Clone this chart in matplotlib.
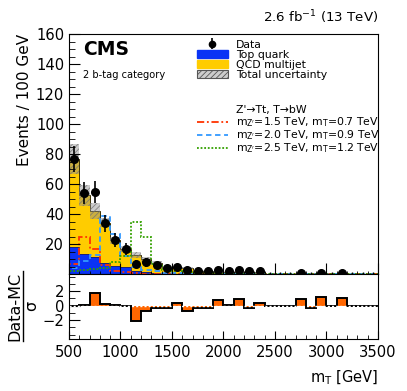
import numpy as np
import matplotlib
matplotlib.use("Agg")
import matplotlib.pyplot as plt
from matplotlib.patches import Patch
from matplotlib.lines import Line2D

plt.rcParams['font.family'] = ['DejaVu Sans']
plt.rcParams['hatch.linewidth'] = 0.6

# bin edges: 100 GeV bins from 500 to 3500 GeV
edges = np.arange(500, 3600, 100)

# backgrounds (events / 100 GeV)
top_quark = [18, 13.7, 11.4, 7.4, 5.7, 5.0, 2.0, 1.5, 1.0, 0.8, 0.6, 0.5, 0.4, 0.3, 0.3,
             0.2, 0.2, 0.2, 0.1, 0.1, 0.1, 0.1, 0.05, 0.05, 0.05, 0.02, 0.02, 0.02, 0.02, 0.02]
qcd = [59, 39, 31, 27, 17, 12, 11, 8.5, 6.5, 3.7, 3.7, 3.8, 2.1, 1.9, 1.5,
       1.6, 1.3, 1.7, 1.4, 0.2, 0.2, 0.2, 0.25, 0.35, 0.15, 0.08, 0.18, 0.08, 0.08, 0.08]
bkg_unc = [10, 7, 5.5, 3, 2.5, 2, 1.8, 1.5, 1.2, 0.9, 0.8, 0.8, 0.6, 0.5, 0.5,
           0.5, 0.4, 0.5, 0.4, 0.3, 0.3, 0.3, 0.3, 0.3, 0.3, 0.2, 0.2, 0.2, 0.2, 0.2]

# observed data
data = [77, 54, 55, 34, 23, 17, 7, 8, 6, 4, 5, 3, 2, 2, 3,
        2, 3, 2, 2, 0, 0, 0, 1, 0, 1, 0, 1, 0, 0, 0]

# signals
sig_15_07 = [7, 25, 17, 6, 2.5, 1.5, 1.0, 0.6, 0.4, 0.3, 0.2, 0.15, 0.1, 0.1, 0.05,
             0.05, 0.05, 0.05, 0.05, 0.05, 0.05, 0.05, 0.05, 0.05, 0.05, 0.05, 0.05, 0.05, 0.05, 0.05]
sig_20_09 = [4, 9, 13, 39, 27, 12, 5, 3, 2, 1.2, 0.8, 0.5, 0.4, 0.3, 0.2,
             0.2, 0.1, 0.1, 0.1, 0.1, 0.05, 0.05, 0.05, 0.05, 0.05, 0.05, 0.05, 0.05, 0.05, 0.05]
sig_25_12 = [2, 3, 3.5, 4, 8, 12, 35, 25, 7, 3, 2, 1.5, 1.0, 0.7, 0.5,
             0.4, 0.3, 0.3, 0.2, 0.2, 0.1, 0.1, 0.1, 0.1, 0.1, 0.05, 0.05, 0.05, 0.05, 0.05]
sig_labels = [r"m$_{\mathrm{Z'}}$=1.5 TeV, m$_{\mathrm{T}}$=0.7 TeV",
              r"m$_{\mathrm{Z'}}$=2.0 TeV, m$_{\mathrm{T}}$=0.9 TeV",
              r"m$_{\mathrm{Z'}}$=2.5 TeV, m$_{\mathrm{T}}$=1.2 TeV"]

# (data - MC) / sigma
pull = [0.0, 0.05, 1.8, 0.25, 0.1, 0.0, -2.1, -0.7, -0.35, -0.3, 0.4, -0.7, -0.3, -0.3, 0.8,
        0.05, 0.9, -0.3, 0.4, -0.1, -0.1, -0.1, 0.9, -0.3, 1.15, -0.05, 1.1, -0.05, -0.05, -0.1]

top_quark = np.array(top_quark)
qcd = np.array(qcd)
total = top_quark + qcd
bkg_unc = np.array(bkg_unc)
data = np.array(data, dtype=float)
centers = 0.5 * (edges[:-1] + edges[1:])

fig = plt.figure(figsize=(4.07, 3.91), dpi=100)
ax = fig.add_axes([0.1695, 0.298, 0.7592, 0.6142])
rax = fig.add_axes([0.1695, 0.133, 0.7592, 0.165], sharex=ax)

blue = '#0a33f5'
gold = '#ffcc00'
sig_colors = ['#ff3300', '#3399ff', '#33a000']
sig_styles = [(0, (4, 1.5, 1, 1.5)), (0, (3, 2)), (0, (1, 1))]

# stacked backgrounds
ax.stairs(top_quark, edges, baseline=0, fill=True, color=blue, lw=0)
ax.stairs(total, edges, baseline=top_quark, fill=True, color=gold, lw=0)
ax.stairs(top_quark, edges, baseline=None, color='#202060', lw=0.6)
ax.stairs(total, edges, baseline=None, color='#3a3000', lw=0.7)

# total uncertainty band
ax.stairs(total + bkg_unc, edges, baseline=total - bkg_unc, fill=True,
          facecolor=(0.55, 0.55, 0.55, 0.45), edgecolor=(0.45, 0.45, 0.45, 0.8),
          hatch='//////', lw=0)

# signals
for vals, c, ls in zip([sig_15_07, sig_20_09, sig_25_12], sig_colors, sig_styles):
    ax.stairs(vals, edges, color=c, lw=1.3, ls=ls)

# data
err_lo = np.sqrt(data)
err_hi = np.where(data > 0, np.sqrt(data), 1.8)
has = data > 0
ax.errorbar(centers[has], data[has], yerr=[err_lo[has], err_hi[has]], fmt='o',
            color='black', ms=5.5, elinewidth=1.2, capsize=0)
ax.errorbar(centers[~has], data[~has], yerr=[err_lo[~has], err_hi[~has]], fmt='none',
            ecolor='black', elinewidth=1.0, capsize=0)

ax.set_xlim(500, 3500)
ax.set_ylim(0, 160)
ax.set_yticks(np.arange(20, 161, 20))
ax.set_yticks(np.arange(0, 161, 5), minor=True)
ax.tick_params(axis='both', which='both', direction='in', top=False, right=False,
               labelsize=10.6)
ax.tick_params(axis='y', which='major', length=8)
ax.tick_params(axis='y', which='minor', length=4)
ax.tick_params(axis='x', labelbottom=False, length=8)
ax.set_xticks(np.arange(500, 3501, 500))
ax.set_xticks(np.arange(500, 3501, 100), minor=True)

# legend for data and backgrounds
hdata = ax.errorbar([], [], yerr=[], fmt='o', color='black', ms=4.5, elinewidth=1.2)
ax.legend(
    [hdata,
     Patch(facecolor=blue, edgecolor=blue),
     Patch(facecolor=gold, edgecolor=gold),
     Patch(facecolor='#cccccc', edgecolor='#555555', hatch='//////', lw=0.8)],
    ['Data', 'Top quark', 'QCD multijet', 'Total uncertainty'],
    loc='upper left', bbox_to_anchor=(0.414, 0.978), frameon=False, fontsize=7.8,
    handlelength=2.87, handleheight=0.8, handletextpad=0.7, labelspacing=0.0,
    borderaxespad=0, borderpad=0)

# signal legend block
ax.text(0.539, 0.685, "Z'\u2192Tt, T\u2192bW", transform=ax.transAxes, fontsize=7.8,
        ha='left', va='center')
for i, (lab, c, ls) in enumerate(zip(sig_labels, sig_colors, sig_styles)):
    yy = 0.633 - i * 0.053
    ax.add_line(Line2D([0.414, 0.515], [yy, yy], color=c, lw=1.3, ls=ls,
                       transform=ax.transAxes))
    ax.text(0.539, yy, lab, transform=ax.transAxes, fontsize=7.8, ha='left', va='center')

ax.text(0.045, 0.935, 'CMS', transform=ax.transAxes, fontsize=13.5, fontweight='bold',
        va='center', ha='left')
ax.text(0.045, 0.83, '2 b-tag category', transform=ax.transAxes, fontsize=7.1,
        va='center', ha='left')
fig.text(0.929, 0.957, r'2.6 fb$^{-1}$ (13 TeV)', ha='right', va='center', fontsize=9.6)
fig.text(0.059, 0.913, 'Events / 100 GeV', rotation=90, ha='center', va='top', fontsize=11)

# pull panel
rax.stairs(pull, edges, baseline=0, fill=True, color='#ff6600', lw=0)
rax.stairs(pull, edges, baseline=None, color='black', lw=1.4)
rax.axhline(0, color='white', lw=1.0, ls=(0, (1.5, 1.5)))
rax.set_ylim(-4.6, 4.3)
rax.set_yticks([-2, 0, 2])
rax.set_yticklabels(['\u22122', '0', '2'])
rax.set_yticks(np.arange(-4, 4.1, 1), minor=True)
rax.tick_params(axis='both', which='both', direction='in', top=False, right=False,
                labelsize=10.6)
rax.tick_params(axis='y', which='major', length=8)
rax.tick_params(axis='y', which='minor', length=4)
rax.tick_params(axis='x', which='major', length=6, pad=4)
rax.tick_params(axis='x', which='minor', length=3)

# "Data-MC over sigma" label drawn as a fraction
fig.text(0.037, 0.217, 'Data-MC', rotation=90, ha='center', va='center', fontsize=11.5)
fig.text(0.078, 0.217, '\u03c3', rotation=90, ha='center', va='center', fontsize=11.5)
fig.add_artist(Line2D([0.057, 0.057], [0.128, 0.306], color='black', lw=1.0,
                      transform=fig.transFigure))

fig.text(0.929, 0.033, r'm$_{\mathrm{T}}$ [GeV]', ha='right', va='center', fontsize=10.5)

fig.savefig('out.png', dpi=100)
